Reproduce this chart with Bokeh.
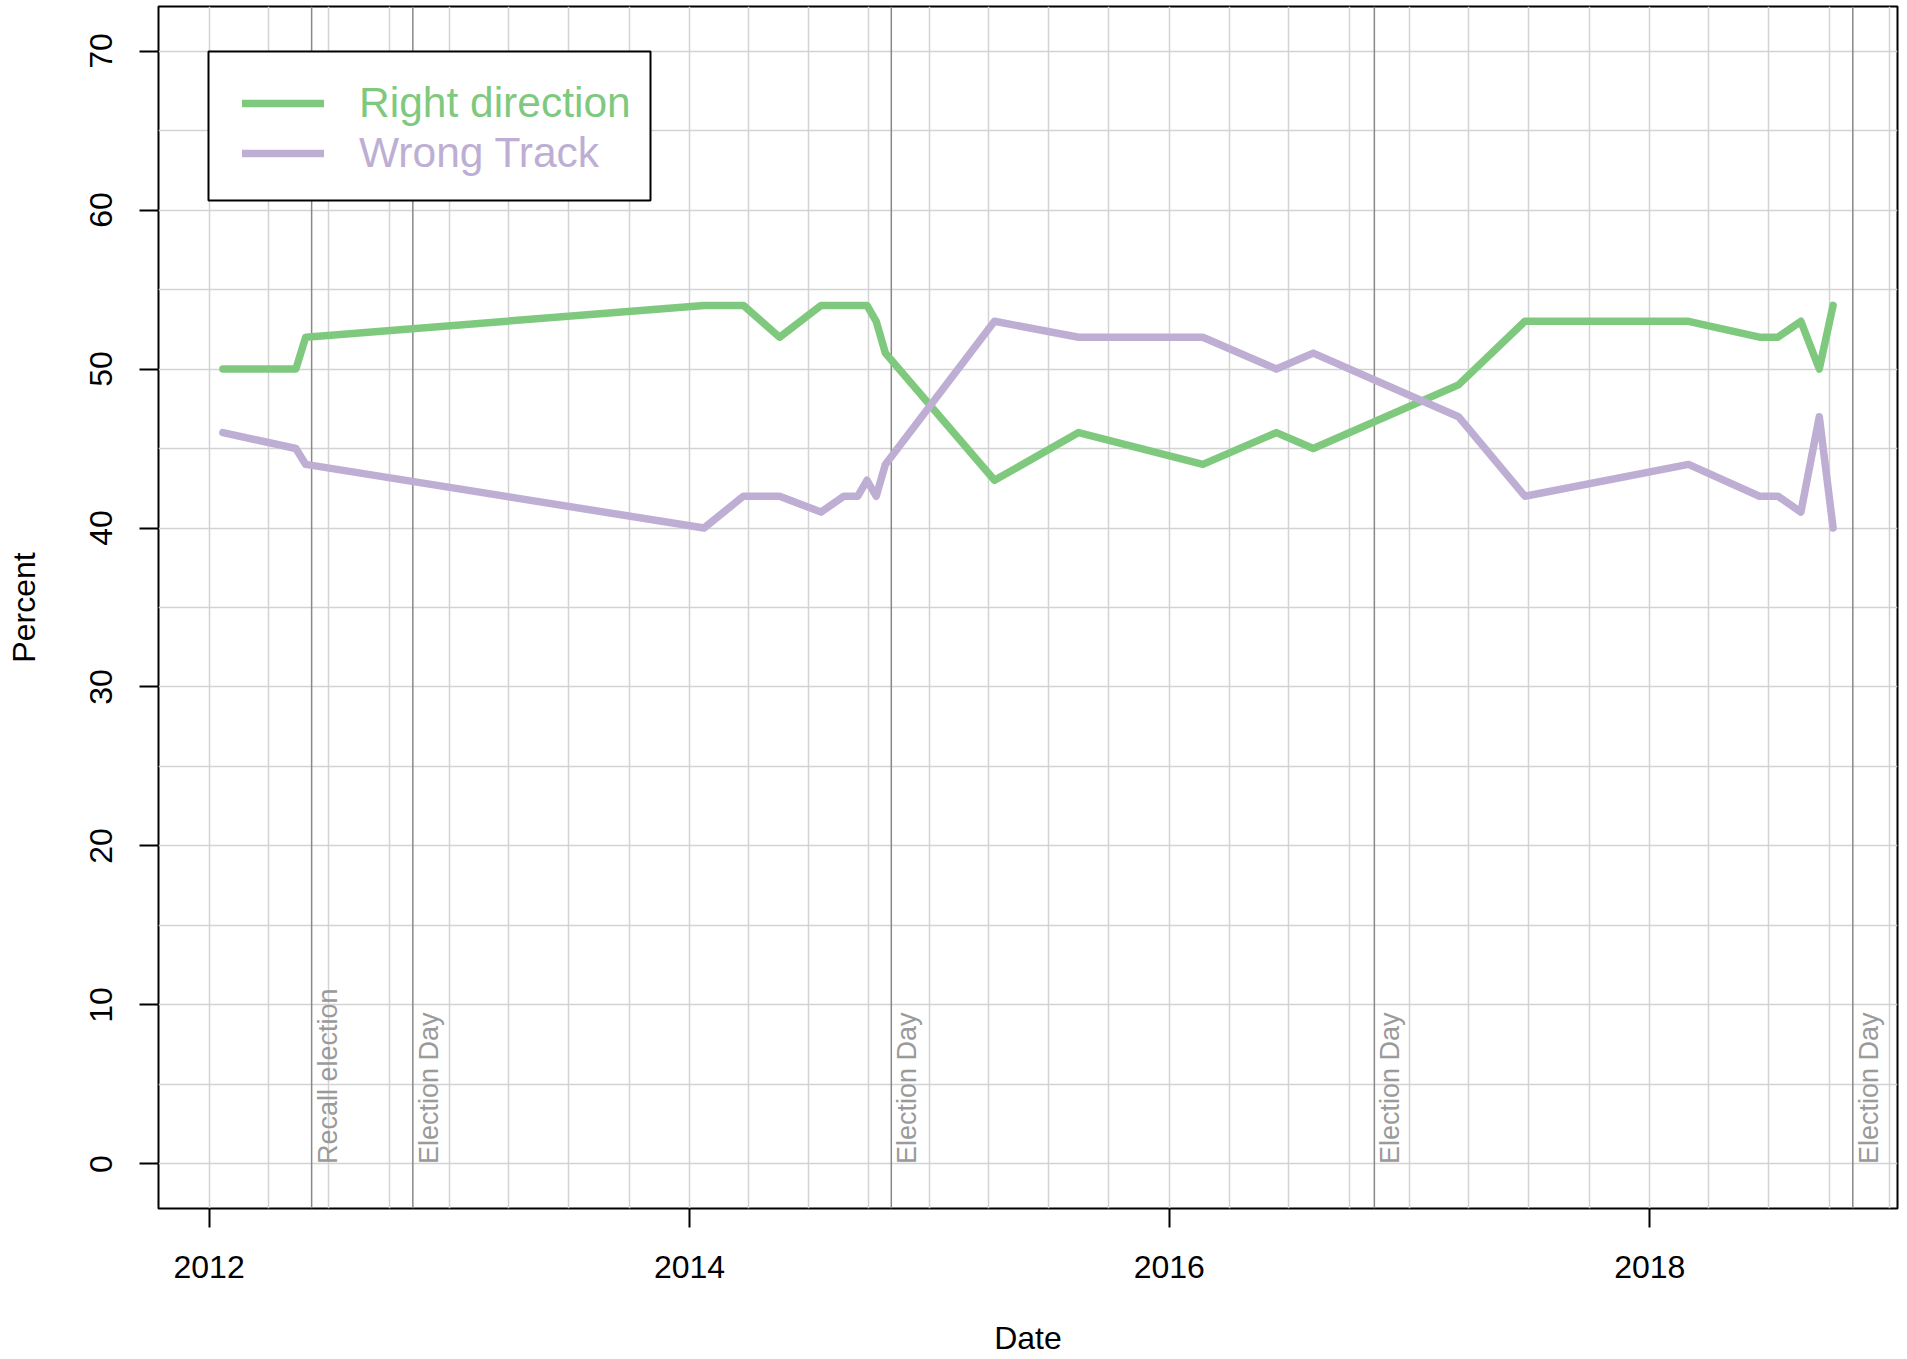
import numpy as np
import pandas as pd
from bokeh.plotting import figure
from bokeh.models import (Range1d, FixedTicker, DatetimeTickFormatter, Span,
                          Legend, LegendItem, BoxAnnotation, ColumnDataSource)
from bokeh.core.properties import value
from bokeh.embed import file_html
from bokeh.resources import INLINE

# ---------------- data ----------------
poll_dates = ["2012-01-22", "2012-05-12", "2012-05-27", "2014-01-23", "2014-03-24",
              "2014-05-18", "2014-07-20", "2014-08-24", "2014-09-14", "2014-09-28",
              "2014-10-12", "2014-10-26", "2015-04-10", "2015-08-16", "2016-02-21",
              "2016-06-12", "2016-08-07", "2017-03-16", "2017-06-25", "2018-03-01",
              "2018-06-17", "2018-07-15", "2018-08-19", "2018-09-16", "2018-10-07"]
right_direction = [50, 50, 52, 54, 54, 52, 54, 54, 54, 54, 53, 51, 43, 46, 44,
                   46, 45, 49, 53, 53, 52, 52, 53, 50, 54]
wrong_track = [46, 45, 44, 40, 42, 42, 41, 42, 42, 43, 42, 44, 53, 52, 52,
               50, 51, 47, 42, 44, 42, 42, 41, 47, 40]
event_dates = ["2012-06-05", "2012-11-06", "2014-11-04", "2016-11-08", "2018-11-06"]
event_labels = ["Recall election", "Election Day", "Election Day", "Election Day", "Election Day"]
year_ticks = ["2012-01-01", "2014-01-01", "2016-01-01", "2018-01-01"]
percent_ticks = [0, 10, 20, 30, 40, 50, 60, 70]
percent_limits = [0, 70]

# ---------------- style ----------------
FONT = "Liberation Sans"
GREEN = "#7FC97F"
PURPLE = "#BEAED4"
GRID = "#D3D3D3"
EVENT_LINE = "#888888"
EVENT_TEXT = "#9A9A9A"


def to_ms(s):
    return pd.Timestamp(s).value / 1e6


x_ms = [to_ms(d) for d in poll_dates]
xspan = max(x_ms) - min(x_ms)
yspan = percent_limits[1] - percent_limits[0]

p = figure(width=1907, height=1359, x_axis_type="datetime",
           x_range=Range1d(min(x_ms) - 0.04 * xspan, max(x_ms) + 0.04 * xspan),
           y_range=Range1d(percent_limits[0] - 0.04 * yspan, percent_limits[1] + 0.04 * yspan),
           output_backend="svg", toolbar_location=None,
           min_border_left=158, min_border_right=10, min_border_top=6, min_border_bottom=151)

p.background_fill_color = "white"
p.border_fill_color = "white"
p.outline_line_color = "black"
p.outline_line_width = 2

# grid
quarters = pd.date_range("2011-10-01", "2019-01-01", freq="QS")
p.xgrid.ticker = FixedTicker(ticks=[q.value / 1e6 for q in quarters])
p.ygrid.ticker = FixedTicker(ticks=list(range(0, 75, 5)))
for g in (p.xgrid, p.ygrid):
    g.grid_line_color = GRID
    g.grid_line_width = 1.5

# axes
p.xaxis.ticker = FixedTicker(ticks=[to_ms(t) for t in year_ticks])
p.xaxis.formatter = DatetimeTickFormatter(years="%Y", months="%Y", days="%Y", hours="%Y",
                                          minutes="%Y", seconds="%Y", milliseconds="%Y",
                                          microseconds="%Y", hourmin="%Y", minsec="%Y")
p.yaxis.ticker = FixedTicker(ticks=percent_ticks)
p.yaxis.major_label_orientation = "vertical"
p.xaxis.axis_label = "Date"
p.yaxis.axis_label = "Percent"
for ax in (p.xaxis, p.yaxis):
    ax.axis_line_color = None
    ax.major_tick_line_color = "black"
    ax.major_tick_line_width = 2
    ax.major_tick_out = 19
    ax.major_tick_in = 0
    ax.minor_tick_line_color = None
    ax.major_label_text_font = FONT
    ax.major_label_text_font_size = "32px"
    ax.major_label_text_color = "black"
    ax.axis_label_text_font = FONT
    ax.axis_label_text_font_size = "32px"
    ax.axis_label_text_font_style = "normal"
    ax.axis_label_text_color = "black"
p.xaxis.major_label_standoff = 28
p.xaxis.axis_label_standoff = 39
p.yaxis.major_label_standoff = 27
p.yaxis.axis_label_standoff = 46

# event lines and labels
for d in event_dates:
    p.add_layout(Span(location=to_ms(d), dimension="height", line_color=EVENT_LINE,
                      line_width=1.5, level="underlay"))
ev_src = ColumnDataSource(dict(x=pd.to_datetime(event_dates), y=[percent_limits[0]] * len(event_dates),
                               text=event_labels))
p.text(x="x", y="y", text="text", source=ev_src, angle=np.pi / 2, text_align="left",
       text_baseline="middle", x_offset=16, text_font=value(FONT),
       text_font_size="27px", text_color=EVENT_TEXT)

# data lines
src = ColumnDataSource(dict(date=pd.to_datetime(poll_dates), right=right_direction, wrong=wrong_track))
r_right = p.line(x="date", y="right", source=src, line_color=GREEN, line_width=7.5,
                 line_cap="round", line_join="round")
r_wrong = p.line(x="date", y="wrong", source=src, line_color=PURPLE, line_width=7.5,
                 line_cap="round", line_join="round")

# legend: frame + two single-item legends (coloured labels)
box = BoxAnnotation(left=50, right=492, top=1157, bottom=1008,
                    left_units="screen", right_units="screen", top_units="screen", bottom_units="screen",
                    fill_color="white", fill_alpha=1, line_color="black", line_alpha=1, line_width=2)
p.add_layout(box)
common = dict(padding=25, spacing=0, glyph_width=82, glyph_height=48, label_height=48,
              label_standoff=35, label_text_font=FONT, label_text_font_size="42.5px",
              border_line_color=None, background_fill_alpha=0, margin=0)
leg1 = Legend(items=[LegendItem(label="Right direction", renderers=[r_right])],
              location=(84, 1081.5), label_text_color=GREEN, **common)
leg2 = Legend(items=[LegendItem(label="Wrong Track", renderers=[r_wrong])],
              location=(84, 1031.5), label_text_color=PURPLE, **common)
p.add_layout(leg1)
p.add_layout(leg2)

open("out.html", "w").write(file_html(p, INLINE))
